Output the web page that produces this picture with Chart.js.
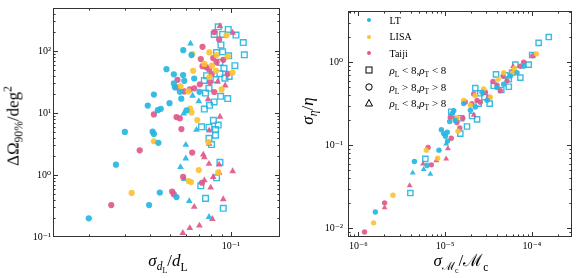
<!DOCTYPE html>
<html>
<head>
<meta charset="utf-8">
<script src="https://cdn.jsdelivr.net/npm/chart.js@4.4.1/dist/chart.umd.min.js"></script>
<style>
  body { margin: 0; background: #fff; }
  #figure { position: relative; width: 581px; height: 278px; font-family: "Liberation Serif", "DejaVu Serif", serif; color: #000; }
  #figure canvas { position: absolute; top: 0; }
  .label { position: absolute; white-space: nowrap; line-height: 1; font-size: 17px; }
  .label i, #legend i { font-style: italic; }
  sub, sup { font-size: 68%; line-height: 0; }
  .rot { transform: translate(-50%, -50%) rotate(-90deg); }
  .hor { transform: translate(-50%, -50%); }
  #legend { position: absolute; left: 362px; top: 12px; font-size: 10px; }
  #legend div { height: 16.6px; display: flex; align-items: center; white-space: nowrap; }
  #legend div.math { font-size: 11px; }
  #legend svg { width: 14px; height: 10px; margin-right: 13.5px; flex: none; }
</style>
</head>
<body>
<div id="figure">
  <canvas id="left" width="290" height="278" style="left:0"></canvas>
  <canvas id="right" width="291" height="278" style="left:290px"></canvas>

  <div class="label rot" style="left:13px;top:126px">ΔΩ<sub>90%</sub>/deg<sup>2</sup></div>
  <div class="label hor" style="left:168px;top:262px"><i>σ</i><sub><i>d</i><sub>L</sub></sub>/<i>d</i><sub>L</sub></div>
  <div class="label rot" style="left:307px;top:111px"><i>σ</i><sub><i>η</i></sub>/<i>η</i></div>
  <div class="label hor" style="left:461px;top:262px"><i>σ</i><sub>ℳ<sub>c</sub></sub>/ℳ<sub>c</sub></div>

  <div id="legend">
    <div><svg viewBox="0 0 14 10"><circle cx="7" cy="5" r="2" fill="#26B6E2"/></svg><span>LT</span></div>
    <div><svg viewBox="0 0 14 10"><circle cx="7" cy="5" r="2" fill="#FCC232"/></svg><span>LISA</span></div>
    <div><svg viewBox="0 0 14 10"><circle cx="7" cy="5" r="2" fill="#E0598B"/></svg><span>Taiji</span></div>
    <div class="math"><svg viewBox="0 0 14 10"><rect x="4" y="2" width="6" height="6" fill="none" stroke="#000" stroke-width="1"/></svg><span><i>ρ</i><sub>L</sub>&nbsp;&lt;&nbsp;8,<i>ρ</i><sub>T</sub>&nbsp;&lt;&nbsp;8</span></div>
    <div class="math"><svg viewBox="0 0 14 10"><circle cx="7" cy="5" r="3.2" fill="none" stroke="#000" stroke-width="1"/></svg><span><i>ρ</i><sub>L</sub>&nbsp;&gt;&nbsp;8,<i>ρ</i><sub>T</sub>&nbsp;&gt;&nbsp;8</span></div>
    <div class="math"><svg viewBox="0 0 14 10"><polygon points="7,1.5 10.5,8 3.5,8" fill="none" stroke="#000" stroke-width="1"/></svg><span><i>ρ</i><sub>L</sub>&nbsp;&lt;&nbsp;8,<i>ρ</i><sub>T</sub>&nbsp;&gt;&nbsp;8</span></div>
  </div>
</div>

<script>
// ---- data: [x, y] pairs ----

// Left panel: sigma_dL/dL vs sky area (deg^2)
const leftLTCircles = [
  [0.0200, 0.200], [0.0272, 1.47], [0.0301, 4.95], [0.0390, 13.2], [0.0396, 0.327],
  [0.0412, 5.0], [0.0418, 4.6], [0.0418, 19.8], [0.0440, 3.3], [0.0437, 11.1],
  [0.0452, 11.7], [0.0447, 0.52], [0.0482, 51], [0.0499, 14.4], [0.0524, 42],
  [0.0524, 30], [0.0530, 26], [0.0540, 0.44], [0.0583, 103], [0.0582, 41],
  [0.0590, 33], [0.0561, 22], [0.0570, 17], [0.0605, 11], [0.0640, 86],
  [0.0660, 36], [0.0700, 22]
];
const leftLISACircles = [
  [0.0645, 89], [0.0652, 48], [0.0617, 22.3], [0.0630, 11.8], [0.0640, 10.2],
  [0.0683, 7.7], [0.0418, 3.5], [0.0325, 0.514], [0.0619, 0.80], [0.0636, 0.77],
  [0.0695, 1.2], [0.0783, 95], [0.0741, 62], [0.0806, 58], [0.0844, 48],
  [0.0952, 179], [0.0964, 82], [0.1019, 45], [0.0900, 24], [0.0866, 1.1],
  [0.0850, 86], [0.0565, 27], [0.0783, 38], [0.0775, 3.4]
];
const leftTaijiCircles = [
  [0.0258, 0.327], [0.0356, 2.5], [0.0418, 9.5], [0.0546, 34.3], [0.0540, 8.6],
  [0.0561, 8.2], [0.0571, 5.5], [0.0514, 0.54], [0.0524, 0.49], [0.0582, 0.93],
  [0.0645, 2.3], [0.0720, 0.75], [0.0590, 22.3], [0.0628, 24], [0.0660, 25],
  [0.0703, 29], [0.0725, 117], [0.0711, 74], [0.0725, 57], [0.0755, 55],
  [0.0780, 51], [0.0806, 43], [0.0790, 31.5], [0.0818, 77], [0.0850, 66],
  [0.0828, 202], [0.0875, 154], [0.0917, 72], [0.0964, 43], [0.0828, 21.8],
  [0.0540, 26]
];
const leftLTTriangles = [
  [0.0633, 132], [0.0648, 19], [0.0695, 15.5], [0.0586, 9.8], [0.0677, 5.35],
  [0.0600, 3.07], [0.0600, 1.85], [0.0565, 1.34], [0.0590, 0.86], [0.0624, 0.38],
  [0.0780, 0.21]
];
const leftTaijiTriangles = [
  [0.0883, 252], [0.1020, 197], [0.0937, 27.8], [0.0772, 16.6], [0.0860, 32],
  [0.0883, 8.7], [0.0782, 5.2], [0.0782, 3.2], [0.0731, 2.13], [0.0740, 1.93],
  [0.0780, 1.51], [0.0875, 1.47], [0.0875, 1.09], [0.1020, 1.15], [0.0818, 0.93],
  [0.0740, 0.82], [0.0795, 0.625], [0.0917, 0.407], [0.0660, 0.307], [0.0810, 0.195],
  [0.0700, 0.153], [0.0628, 0.139], [0.0580, 0.116]
];
const leftLTSquares = [
  [0.0866, 246], [0.0828, 185], [0.0910, 185], [0.0970, 223], [0.1059, 181],
  [0.1150, 137], [0.1164, 87], [0.0893, 125], [0.0910, 97], [0.0850, 94.6],
  [0.0974, 83.7], [0.1046, 58], [0.0883, 65.6], [0.0924, 52.5], [0.0883, 43],
  [0.0980, 39], [0.0934, 36.5], [0.0844, 34.7], [0.0759, 40], [0.0740, 33.5],
  [0.0780, 25], [0.0750, 21], [0.0827, 15.1], [0.0890, 18.6], [0.0964, 17.1],
  [0.0740, 11.6], [0.0785, 13.3], [0.0820, 7.6], [0.0866, 6.4], [0.0840, 5.4],
  [0.0780, 5.9], [0.0717, 6.0], [0.0780, 3.9], [0.0840, 4.4], [0.0803, 3.1],
  [0.0883, 1.6], [0.0850, 0.90], [0.0711, 0.67], [0.0750, 0.42], [0.0917, 0.29]
];

// Right panel: sigma_Mc/Mc vs sigma_eta/eta
const rightLTCircles = [
  [1.57e-6, 0.0157], [4.43e-6, 0.0637], [6.19e-6, 0.057], [8.51e-6, 0.0871], [9.06e-6, 0.154],
  [9.64e-6, 0.138], [1.06e-5, 0.143], [1.01e-5, 0.128], [1.07e-5, 0.112], [1.13e-5, 0.193],
  [1.31e-5, 0.198], [1.21e-5, 0.242], [1.26e-5, 0.26], [1.64e-5, 0.317], [1.96e-5, 0.264],
  [2.23e-5, 0.289], [2.67e-5, 0.434], [3.05e-5, 0.347], [3.97e-5, 0.497], [4.74e-5, 0.544],
  [5.66e-5, 0.682], [6.76e-5, 0.746], [8.07e-5, 0.893]
];
const rightLISACircles = [
  [1.50e-6, 0.0116], [2.51e-6, 0.0249], [6.08e-6, 0.0871], [8.22e-6, 0.0696], [1.41e-5, 0.147],
  [1.96e-5, 0.303], [2.23e-5, 0.397], [3.33e-5, 0.379], [4.08e-5, 0.623], [4.74e-5, 0.746],
  [6.08e-5, 0.746], [6.35e-5, 0.839], [1.13e-4, 1.26], [1.64e-5, 0.347], [2.79e-5, 0.475],
  [1.37e-5, 0.211]
];
const rightTaijiCircles = [
  [1.18e-6, 0.00898], [2.01e-6, 0.0202], [6.37e-6, 0.0937], [6.95e-6, 0.058], [1.18e-5, 0.121],
  [1.15e-5, 0.217], [1.31e-5, 0.211], [1.37e-5, 0.188], [1.48e-5, 0.161], [1.60e-5, 0.211],
  [1.71e-5, 0.331], [2.14e-5, 0.415], [2.34e-5, 0.347], [2.92e-5, 0.434], [3.57e-5, 0.585],
  [3.97e-5, 0.530], [4.34e-5, 0.454], [4.67e-5, 0.682], [5.18e-5, 0.596], [6.08e-5, 0.78],
  [8.07e-5, 1.0], [1.03e-4, 1.2], [7.39e-5, 0.893], [2.04e-5, 0.317], [3.20e-5, 0.379],
  [2.55e-5, 0.33]
];
const rightLTTriangles = [
  [4.24e-6, 0.0464], [5.67e-6, 0.0512], [6.77e-6, 0.0448], [1.03e-5, 0.104]
];
const rightTaijiTriangles = [
  [2.01e-6, 0.0177], [3.91e-6, 0.0326], [5.57e-6, 0.0597], [7.94e-6, 0.0654], [1.03e-5, 0.0684],
  [1.08e-5, 0.0912], [2.14e-5, 0.231], [6.08e-5, 0.893]
];
const rightLTSquares = [
  [3.98e-6, 0.0265], [5.93e-6, 0.0684], [1.18e-5, 0.253], [1.53e-5, 0.211], [1.50e-5, 0.138],
  [1.79e-5, 0.168], [2.05e-5, 0.225], [2.34e-5, 0.205], [2.44e-5, 0.317], [2.23e-5, 0.488],
  [2.55e-5, 0.423], [3.27e-5, 0.317], [2.84e-5, 0.379], [3.64e-5, 0.52], [3.87e-5, 0.713],
  [4.97e-5, 0.694], [5.43e-5, 0.623], [5.43e-5, 0.506], [5.92e-5, 0.746], [6.47e-5, 0.934],
  [7.39e-5, 0.652], [9.22e-5, 0.934], [1.01e-4, 1.22], [1.20e-4, 1.71], [1.57e-4, 2.01],
  [4.45e-5, 0.463]
];

// axis limits and labelled ticks
const leftXLimits = [0.01334, 0.1743];
const leftYLimits = [0.1, 494];
const rightXLimits = [7.6e-7, 2.91e-4];
const rightYLimits = [0.00783, 4.14];
const leftXTicks = [0.1];
const leftYTicks = [0.1, 1, 10, 100];
const rightXTicks = [1e-6, 1e-5, 1e-4];
const rightYTicks = [0.01, 0.1, 1];

// ---- styles ----
const LT_COLOR = "rgba(38, 182, 226, 0.92)";
const LISA_COLOR = "rgba(252, 194, 50, 0.92)";
const TAIJI_COLOR = "rgba(224, 89, 139, 0.92)";
const TICK_FONT = { family: "'Liberation Serif', 'DejaVu Serif', serif", size: 10 };

// 10^n label with unicode superscripts
const SUP = { "-": "⁻", "0": "⁰", "1": "¹", "2": "²", "3": "³", "4": "⁴", "5": "⁵", "6": "⁶", "7": "⁷", "8": "⁸", "9": "⁹" };
function powLabel(value) {
  const exp = String(Math.round(Math.log10(value)));
  return "10" + exp.split("").map(c => SUP[c]).join("");
}

// Frame plus inward major/minor ticks on all four sides (positions come from the scales)
const frameTicks = {
  id: "frameTicks",
  afterDraw(chart) {
    const { ctx, chartArea: a, scales } = chart;
    ctx.save();
    ctx.strokeStyle = "#333";
    ctx.lineWidth = 1;
    ctx.strokeRect(a.left + 0.5, a.top + 0.5, a.right - a.left - 1, a.bottom - a.top - 1);

    const eachTick = (scale, fn) => {
      const lo = Math.floor(Math.log10(scale.min));
      const hi = Math.ceil(Math.log10(scale.max));
      for (let e = lo; e <= hi; e++) {
        for (let m = 1; m <= 9; m++) {
          const v = m * Math.pow(10, e);
          if (v < scale.min * 1.0001 || v > scale.max * 0.9999) continue;
          fn(Math.round(scale.getPixelForValue(v)) + 0.5, m === 1 ? 5 : 2.6);
        }
      }
    };
    ctx.beginPath();
    eachTick(scales.x, (p, len) => {
      ctx.moveTo(p, a.bottom); ctx.lineTo(p, a.bottom - len);
      ctx.moveTo(p, a.top); ctx.lineTo(p, a.top + len);
    });
    eachTick(scales.y, (p, len) => {
      ctx.moveTo(a.left, p); ctx.lineTo(a.left + len, p);
      ctx.moveTo(a.right, p); ctx.lineTo(a.right - len, p);
    });
    ctx.stroke();
    ctx.restore();
  }
};

function toPoints(pairs) {
  return pairs.map(([x, y]) => ({ x, y }));
}

function series(pairs, color, shape, radius) {
  const hollow = shape === "rect";
  return {
    data: toPoints(pairs),
    pointStyle: shape,
    pointRadius: radius,
    backgroundColor: hollow ? "rgba(0,0,0,0)" : color,
    borderColor: color,
    borderWidth: hollow ? 1.4 : 0,
    showLine: false
  };
}

function logAxis(limits, ticks, pad, fit) {
  return {
    type: "logarithmic",
    min: limits[0],
    max: limits[1],
    grid: { display: false, drawTicks: false },
    border: { display: false },
    ticks: { autoSkip: false, maxRotation: 0, padding: pad, color: "#000", font: TICK_FONT, callback: v => powLabel(v) },
    afterBuildTicks: scale => { scale.ticks = ticks.map(v => ({ value: v })); },
    afterFit: fit
  };
}

function buildChart(id, datasets, xLim, yLim, xTicks, yTicks, yWidth, padRight, yPad) {
  return new Chart(document.getElementById(id), {
    type: "scatter",
    data: { datasets },
    options: {
      responsive: false,
      animation: false,
      events: [],
      layout: { padding: { top: 5, right: padRight, left: 0, bottom: 0 } },
      plugins: { legend: { display: false }, tooltip: { enabled: false } },
      scales: {
        x: logAxis(xLim, xTicks, 3, s => { s.height = 41; }),
        y: logAxis(yLim, yTicks, yPad, s => { s.width = yWidth; })
      }
    },
    plugins: [frameTicks]
  });
}

buildChart("left", [
  series(leftLTCircles, LT_COLOR, "circle", 3.1),
  series(leftLISACircles, LISA_COLOR, "circle", 3.1),
  series(leftTaijiCircles, TAIJI_COLOR, "circle", 3.1),
  series(leftLTTriangles, LT_COLOR, "triangle", 3.9),
  series(leftTaijiTriangles, TAIJI_COLOR, "triangle", 3.9),
  series(leftLTSquares, LT_COLOR, "rect", 4.0)
], leftXLimits, leftYLimits, leftXTicks, leftYTicks, 53, 10, 2);

buildChart("right", [
  series(rightLTCircles, LT_COLOR, "circle", 2.7),
  series(rightLISACircles, LISA_COLOR, "circle", 2.7),
  series(rightTaijiCircles, TAIJI_COLOR, "circle", 2.7),
  series(rightLTTriangles, LT_COLOR, "triangle", 3.4),
  series(rightTaijiTriangles, TAIJI_COLOR, "triangle", 3.4),
  series(rightLTSquares, LT_COLOR, "rect", 3.7)
], rightXLimits, rightYLimits, rightXTicks, rightYTicks, 58, 9, 5);
</script>
</body>
</html>
